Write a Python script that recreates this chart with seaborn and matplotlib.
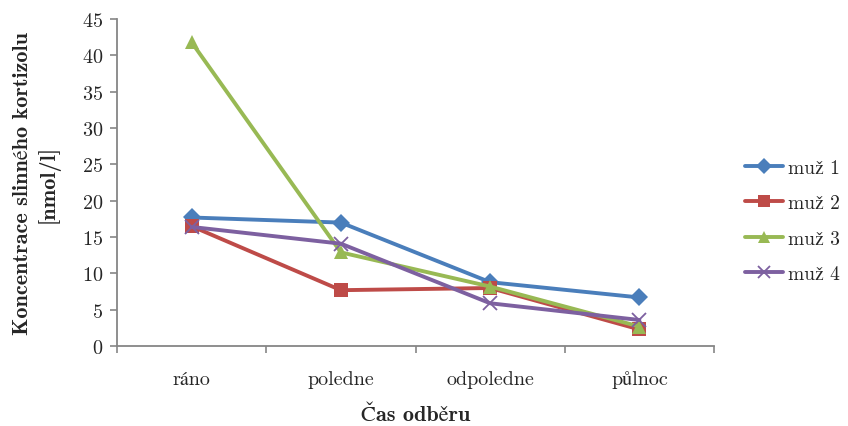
import matplotlib
matplotlib.use("Agg")
import matplotlib.pyplot as plt
import seaborn as sns
import pandas as pd

# Sampling times and salivary cortisol per subject
times = ["ráno", "poledne", "odpoledne", "půlnoc"]
subjects = ["muž 1", "muž 2", "muž 3", "muž 4"]
muz1 = [17.7, 17.0, 8.8, 6.7]
muz2 = [16.5, 7.7, 8.0, 2.3]
muz3 = [41.8, 12.9, 8.2, 2.7]
muz4 = [16.4, 14.1, 5.9, 3.6]
y_ticks = [0, 5, 10, 15, 20, 25, 30, 35, 40, 45]

values = [muz1, muz2, muz3, muz4]
df = pd.DataFrame(
    [(t, s, v) for s, vals in zip(subjects, values) for t, v in zip(times, vals)],
    columns=["time", "subject", "value"],
)
df["pos"] = df["time"].map({t: i for i, t in enumerate(times)})

sns.set_style("white")
plt.rcParams["font.family"] = ["cmr10", "STIXGeneral", "DejaVu Serif"]
plt.rcParams["axes.formatter.use_mathtext"] = True
bold_family = ["cmb10", "STIXGeneral", "DejaVu Serif"]

palette = {"muž 1": "#4A7EBB", "muž 2": "#BE4B48", "muž 3": "#98B954", "muž 4": "#7D60A0"}
markers = {"muž 1": "D", "muž 2": "s", "muž 3": "^", "muž 4": "X"}

fig = plt.figure(figsize=(8.48, 4.27), dpi=100)
ax = fig.add_axes([0.138, 0.187, 0.704, 0.766])

sns.lineplot(
    data=df, x="pos", y="value", hue="subject", style="subject",
    palette=palette, markers=markers, dashes=False, linewidth=2.8,
    markersize=9.5, markeredgewidth=0, ax=ax, legend=False,
)
# purple series uses a thin cross marker
for line in ax.lines:
    if line.get_color().lower() == "#7d60a0":
        line.set_marker("x")
        line.set_markeredgecolor("#7D60A0")
        line.set_markeredgewidth(1.3)
        line.set_markersize(10)

ax.set_xlim(-0.5, len(times) - 0.5)
ax.set_ylim(0, 45)
ax.set_yticks(y_ticks)
ax.set_xticks(range(len(times)))
ax.set_xticklabels(times)
ax.set_xticks([i - 0.5 for i in range(len(times) + 1)], minor=True)
ax.tick_params(axis="x", which="major", length=0, pad=17, labelsize=14.5)
ax.tick_params(axis="x", which="minor", length=5, width=1.2, color="#868686", direction="out")
ax.tick_params(axis="y", length=5, width=1.2, color="#868686", direction="out", labelsize=14.5, pad=5)
ax.xaxis.set_tick_params(bottom=True, which="both")
ax.yaxis.set_tick_params(left=True)

for side in ["top", "right"]:
    ax.spines[side].set_visible(False)
for side in ["left", "bottom"]:
    ax.spines[side].set_color("#868686")
    ax.spines[side].set_linewidth(1.3)

ax.set_xlabel("Čas odběru", fontsize=16, family=bold_family, labelpad=12)
ax.set_ylabel("Koncentrace slinného kortizolu\n[nmol/l]", fontsize=16,
              family=bold_family, labelpad=16, linespacing=1.25)

handles = [
    plt.Line2D([], [], color=palette[s], linewidth=2.8,
               marker=("x" if s == "muž 4" else markers[s]),
               markersize=(9 if s == "muž 4" else 8.5),
               markeredgecolor=palette[s],
               markeredgewidth=(1.3 if s == "muž 4" else 0))
    for s in subjects
]
fig.legend(handles, subjects, loc="center left", bbox_to_anchor=(0.878, 0.48),
           frameon=False, fontsize=14, handlelength=2.0, handletextpad=0.25,
           labelspacing=0.9, borderpad=0, borderaxespad=0)

fig.savefig("out.png", dpi=100)
